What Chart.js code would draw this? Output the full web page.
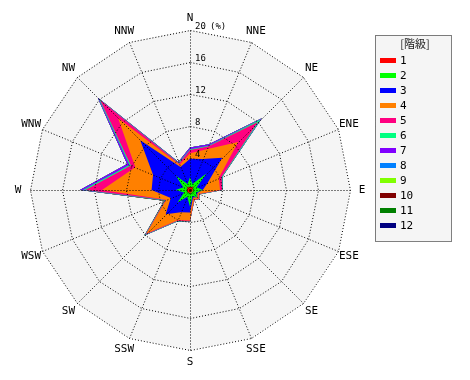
<!DOCTYPE html>
<html><head><meta charset="utf-8">
<script src="https://cdn.jsdelivr.net/npm/chart.js@4.4.1/dist/chart.umd.min.js"></script>
<style>html,body{margin:0;padding:0;background:#fff}</style>
</head><body>
<canvas id="c" width="470" height="380"></canvas>
<script>
const directions = ['N','NNE','NE','ENE','E','ESE','SE','SSE','S','SSW','SW','WSW','W','WNW','NW','NNW'];
const classLabels = ['1','2','3','4','5','6','7','8','9','10','11','12'];
const classColors = ['#ff0000','#00ff00','#0000ff','#ff8000','#ff0080','#00ff80','#8000ff','#0080ff','#80ff00','#800000','#008000','#000080'];
const tickValues = [4, 8, 12, 16, 20];
const unitLabel = '(%)';
const legendTitle = '[階級]';
// cumulative frequency (%) up to each class, per direction
const cum1  = [0.5,0.3,0.7,0.3,0.4,0.3,0.4,0.3,0.5,0.3,0.5,0.3,0.5,0.3,0.6,0.3];
const cum2  = [1.6,0.8,2.9,0.9,1.6,0.8,1.3,0.8,2.1,0.9,2.2,0.8,1.8,0.9,2.5,0.8];
const cum3  = [3.9,4.2,5.7,2.4,1.6,1.0,1.3,1.0,2.8,3.0,4.3,2.6,4.8,5.0,8.8,3.1];
const cum4  = [4.6,5.5,8.5,3.9,3.75,1.2,1.5,1.3,3.8,4.1,7.7,3.2,11.0,7.4,12.7,3.4];
const cum5  = [5.0,5.9,12.0,4.3,4.0,1.3,1.6,1.4,3.9,4.2,7.85,3.3,13.1,8.0,15.9,3.6];
const cum6  = [5.1,6.0,12.5,4.4,4.05,1.35,1.6,1.4,3.9,4.25,7.95,3.35,13.4,8.2,16.1,3.7];
const cum7  = [5.3,6.2,12.7,4.4,4.05,1.35,1.6,1.4,3.9,4.25,8.0,3.35,13.75,8.5,16.3,3.8];
const cum8  = [5.3,6.2,12.7,4.4,4.05,1.35,1.6,1.4,3.9,4.25,8.05,3.4,13.75,8.5,16.3,3.8];
const cum9  = [5.3,6.2,12.7,4.4,4.05,1.35,1.6,1.4,3.9,4.25,8.05,3.4,13.75,8.5,16.3,3.8];
const cum10 = [5.3,6.2,12.7,4.4,4.05,1.35,1.6,1.4,3.9,4.25,8.05,3.5,13.75,8.5,16.3,3.8];
const cum11 = [5.3,6.2,12.7,4.4,4.05,1.35,1.6,1.4,3.9,4.25,8.05,3.5,13.75,8.5,16.3,3.8];
const cum12 = [5.3,6.2,12.7,4.4,4.05,1.35,1.6,1.4,3.9,4.25,8.05,3.5,13.75,8.5,16.3,3.8];
const series = [cum1,cum2,cum3,cum4,cum5,cum6,cum7,cum8,cum9,cum10,cum11,cum12];

const MONO = '"DejaVu Sans Mono", "Liberation Mono", monospace';

function px(v) { return Math.round(v) + 0.5; }

const gridPlugin = {
  id: 'windgrid',
  beforeDatasetsDraw(chart) {
    const s = chart.scales.r, ctx = chart.ctx;
    ctx.save();
    ctx.beginPath();
    directions.forEach((d, i) => {
      const p = s.getPointPosition(i, s.drawingArea);
      if (i === 0) ctx.moveTo(p.x, p.y); else ctx.lineTo(p.x, p.y);
    });
    ctx.closePath();
    ctx.fillStyle = '#f5f5f5';
    ctx.fill();
    ctx.restore();
  },
  afterDatasetsDraw(chart) {
    const s = chart.scales.r, ctx = chart.ctx;
    ctx.save();
    ctx.strokeStyle = '#000';
    ctx.lineWidth = 1;
    ctx.setLineDash([1, 2]);
    // rings (16-gon) at each tick
    tickValues.forEach(v => {
      const r = s.getDistanceFromCenterForValue(v);
      ctx.beginPath();
      directions.forEach((d, i) => {
        const p = s.getPointPosition(i, r);
        if (i === 0) ctx.moveTo(px(p.x), px(p.y)); else ctx.lineTo(px(p.x), px(p.y));
      });
      ctx.closePath();
      ctx.stroke();
    });
    // spokes
    directions.forEach((d, i) => {
      const p = s.getPointPosition(i, s.getDistanceFromCenterForValue(s.max));
      ctx.beginPath();
      ctx.moveTo(px(s.xCenter), px(s.yCenter));
      ctx.lineTo(px(p.x), px(p.y));
      ctx.stroke();
    });
    ctx.restore();
  }
};

const textPlugin = {
  id: 'texts',
  afterDraw(chart) {
    const s = chart.scales.r, ctx = chart.ctx;
    ctx.save();
    ctx.fillStyle = '#000';
    // direction labels
    ctx.font = '11px ' + MONO;
    ctx.textAlign = 'center';
    ctx.textBaseline = 'middle';
    directions.forEach((d, i) => {
      const p = s.getPointPosition(i, s.drawingArea + 12);
      ctx.fillText(d, p.x, p.y);
    });
    // tick labels
    ctx.font = '9px ' + MONO;
    ctx.textAlign = 'left';
    tickValues.forEach((v, k) => {
      const r = s.getDistanceFromCenterForValue(v);
      const x = s.xCenter + 5, y = s.yCenter - r - 3;
      ctx.fillText(String(v), x, y);
      if (k === tickValues.length - 1) ctx.fillText(unitLabel, x + 15, y);
    });
    // legend
    const lx = 375, ly = 35, lw = 76, lh = 206;
    ctx.fillStyle = '#f5f5f5';
    ctx.fillRect(lx, ly, lw, lh);
    ctx.strokeStyle = '#000';
    ctx.lineWidth = 1;
    ctx.setLineDash([1, 1]);
    ctx.strokeRect(lx + 0.5, ly + 0.5, lw, lh);
    ctx.setLineDash([]);
    ctx.fillStyle = '#222';
    ctx.font = '11px "Noto Sans CJK JP", ' + MONO;
    ctx.textAlign = 'center';
    ctx.fillText(legendTitle, lx + lw / 2 + 2, 44);
    ctx.font = '11px ' + MONO;
    ctx.textAlign = 'left';
    chart.data.datasets.forEach((ds, i) => {
      const y = 60.5 + i * 15;
      ctx.fillStyle = ds.backgroundColor;
      ctx.fillRect(380, Math.round(y - 2.5), 16, 5);
      ctx.fillStyle = '#000';
      ctx.fillText(ds.label, 400, y + 0.5);
    });
    ctx.restore();
  }
};

new Chart(document.getElementById('c'), {
  type: 'radar',
  data: {
    labels: directions,
    datasets: classLabels.map((l, i) => ({
      label: l,
      data: series[i],
      backgroundColor: classColors[i],
      borderColor: classColors[i],
      borderWidth: 0,
      pointRadius: 0,
      pointHoverRadius: 0,
      fill: 'origin'
    }))
  },
  options: {
    responsive: false,
    animation: false,
    devicePixelRatio: 1,
    layout: { padding: { left: 30, top: 30, right: 120, bottom: 30 } },
    plugins: { legend: { display: false }, tooltip: { enabled: false } },
    elements: { line: { tension: 0 } },
    scales: {
      r: {
        min: 0, max: 20,
        startAngle: 0,
        ticks: { stepSize: 4, display: false },
        pointLabels: { display: false },
        grid: { display: false },
        angleLines: { display: false }
      }
    }
  },
  plugins: [gridPlugin, textPlugin]
});
</script>
</body></html>
